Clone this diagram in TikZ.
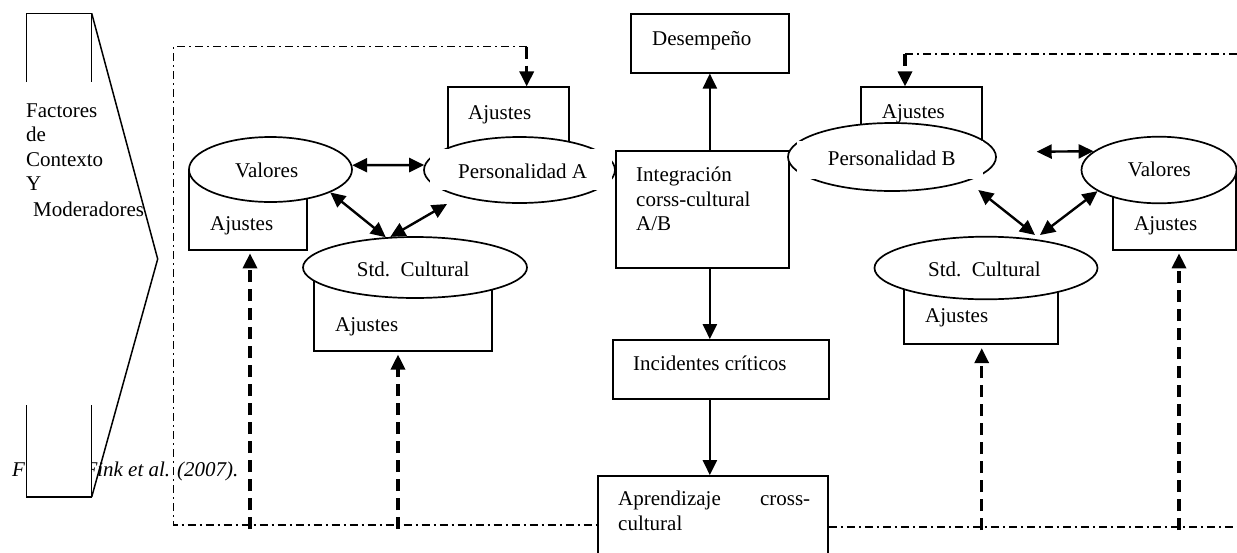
\documentclass[tikz,border=0pt]{standalone}
\usepackage{fontspec}
\setmainfont{Liberation Serif}
\usetikzlibrary{arrows.meta,shapes.geometric,calc}

\begin{document}
\begin{tikzpicture}[x=1pt,y=-1pt,
  font=\fontsize{21}{24}\selectfont,
  >={Triangle[length=15pt,width=14pt]},
  lbl/.style={inner sep=0pt,anchor=base west},
  box/.style={draw,line width=1.7pt,fill=white,inner sep=0pt,rectangle},
  oval/.style={draw,line width=1.7pt,fill=white,inner sep=0pt,ellipse},
  solidarrow/.style={line width=2.4pt,->},
  bothways/.style={line width=2.4pt,<->},
  feedback/.style={line width=3.3pt,dash pattern=on 12pt off 7pt,->},
  loopline/.style={line width=1.4pt,dash pattern=on 8pt off 4pt on 2pt off 4pt},
  frame/.style={line width=1.5pt}]

\useasboundingbox (0,0) rectangle (1237,552);
\clip (0,0) rectangle (1237,552);

% source line, partly hidden behind the lower part of the chevron
\node[lbl,font=\fontsize{21}{24}\selectfont\itshape] (src) at (12,476.7) {Fuente: Fink et al. (2007).};

% context chevron
\fill[white] (26.7,405) rectangle (91.7,497);
\draw[frame] (26.7,82) -- (26.7,13.3) -- (91.7,13.3) -- (91.7,82);
\draw[frame] (91.7,13.3) -- (157.7,259) -- (91.7,497);
\draw[frame] (26.7,405) -- (26.7,497) -- (91.7,497) -- (91.7,405);
\node[lbl] (f1) at (26,117.3) {Factores};
\node[lbl] (f2) at (26,141.7) {de};
\node[lbl] (f3) at (26,166) {Contexto};
\node[lbl] (f4) at (26,190) {Y};
\node[lbl] (f5) at (33,216) {Moderadores};

% left cluster
\node[box,minimum width=118pt,minimum height=80.5pt] (ajVL) at (248,209.75) {};
\node[oval,minimum width=163pt,minimum height=65pt] (valL) at (270.5,169.5) {};
\node[box,minimum width=121.3pt,minimum height=72.7pt] (ajPA) at (508.35,123.65) {};
\node[oval,minimum width=191pt,minimum height=66pt] (persA) at (519.5,170) {};
\fill[white] (430,148.5) rectangle (612,189.5);
\node[box,minimum width=178pt,minimum height=82.7pt] (ajSL) at (403,309.35) {};
\node[oval,minimum width=224pt,minimum height=61pt] (stdL) at (415,267.5) {};

% central column
\node[box,minimum width=158.3pt,minimum height=58.7pt] (des) at (709.85,43.35) {};
\node[box,minimum width=173.3pt,minimum height=117.6pt] (integ) at (702.35,209.5) {};
\node[box,minimum width=216pt,minimum height=59pt] (inc) at (721,369.5) {};
\node[box,minimum width=230pt,minimum height=124pt] (apr) at (713,538) {};

% right cluster
\node[box,minimum width=121.3pt,minimum height=62.7pt] (ajPB) at (921.65,118.65) {};
\node[oval,minimum width=208pt,minimum height=68pt] (persB) at (892,157) {};
\fill[white] (797,140.8) rectangle (983,178.5);
\node[box,minimum width=122.4pt,minimum height=80pt] (ajVR) at (1174.5,210) {};
\node[oval,minimum width=155pt,minimum height=66.6pt] (valR) at (1159,170) {};
\node[box,minimum width=154pt,minimum height=76.3pt] (ajSR) at (981.3,306.15) {};
\node[oval,minimum width=223pt,minimum height=62.6pt] (stdR) at (986,268) {};

% labels
\node[lbl] (tValL) at (235,177) {Valores};
\node[lbl] (tAjVL) at (210,230) {Ajustes};
\node[lbl] (tPersA) at (458,178) {Personalidad A};
\node[lbl] (tAjPA) at (468,119.3) {Ajustes};
\node[lbl] (tStdL) at (356.7,276.7) {Std.\ \ Cultural};
\node[lbl] (tAjSL) at (335,331) {Ajustes};
\node[lbl] (tDes) at (652,45) {Desempeño};
\node[lbl] (tInt1) at (636,181.7) {Integración};
\node[lbl] (tInt2) at (636,206.7) {corss-cultural};
\node[lbl] (tInt3) at (636,230) {A/B};
\node[lbl] (tInc) at (633,370.7) {Incidentes críticos};
\node[lbl] (tApr1) at (618,505) {\makebox[192pt][l]{Aprendizaje\hfill cross-}};
\node[lbl] (tApr2) at (618,530.7) {cultural};
\node[lbl] (tAjPB) at (881.7,118.3) {Ajustes};
\node[lbl] (tPersB) at (827.7,165.7) {Personalidad B};
\node[lbl] (tValR) at (1127.7,176) {Valores};
\node[lbl] (tAjVR) at (1134,230) {Ajustes};
\node[lbl] (tStdR) at (928,276.7) {Std.\ \ Cultural};
\node[lbl] (tAjSR) at (925,322.7) {Ajustes};

% feedback loops
\coordinate (tl) at (173.3,46.7);
\coordinate (tA) at (526.7,46.7);
\coordinate (bl) at (173.3,525);
\coordinate (br) at (1237,527);
\coordinate (tB) at (905,54);
\coordinate (tr) at (1237,54);
\draw[loopline] (tA) -- (tl) -- (bl) -- (bl -| apr.west);
\draw[loopline] (br -| apr.east) -- (br);
\draw[loopline] (tB) -- (tr);

\coordinate (dVL) at (250,529);
\coordinate (dSL) at (398,529);
\coordinate (dSR) at (981.7,530);
\coordinate (dVR) at (1179,530);
\draw[feedback] (tA) -- (tA |- ajPA.north);
\draw[feedback] (tB) -- (tB |- ajPB.north);
\draw[feedback,shorten >=2.5pt] (dVL) -- (dVL |- ajVL.south);
\draw[feedback,shorten >=3pt] (dSL) -- (dSL |- ajSL.south);
\draw[feedback,shorten >=3pt] (dSR) -- (dSR |- ajSR.south);
\draw[feedback,shorten >=2.5pt] (dVR) -- (dVR |- ajVR.south);

% central flow
\draw[solidarrow] (integ.north -| des.south) -- (des.south);
\draw[solidarrow] (integ.south -| des.south) -- (inc.north -| des.south);
\draw[solidarrow] (inc.south -| des.south) -- (apr.north -| des.south);

% mutual influences, left
\coordinate (pAfoot) at (447,204);
\draw[bothways] (valL.3) -- (persA.177);
\draw[bothways] (valL.-21) -- (stdL.134);
\draw[bothways] (stdL.129) -- (pAfoot);

% mutual influences, right
\coordinate (pBside) at (1036.7,151.7);
\coordinate (pBfoot) at (978.3,190);
\coordinate (sRtop1) at (1035,235);
\coordinate (sRtop2) at (1040,235);
\draw[bothways] (pBside) -- (valR.164);
\draw[bothways] (pBfoot) -- (sRtop1);
\draw[bothways] (sRtop2) -- (valR.199);

\end{tikzpicture}
\end{document}
